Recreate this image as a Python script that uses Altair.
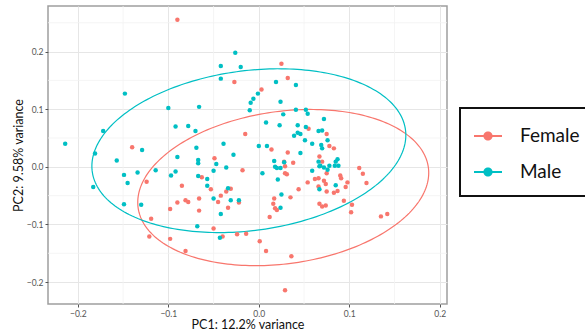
import altair as alt
import numpy as np
import pandas as pd

# ---- data ----
female_x = [-0.090, -0.140, -0.027, 0.025, 0.032, 0.003, 0.055, -0.015, 0.014, 0.032,
            -0.049, 0.038, 0.075, 0.078, 0.083, 0.067, 0.070, -0.124, -0.085, -0.090,
            -0.081, -0.078, -0.098, -0.119, -0.121, -0.098, -0.081, -0.018, -0.063, -0.053,
            -0.031, -0.036, -0.042, -0.045, -0.022, -0.066, -0.066, -0.034, -0.050, -0.040,
            -0.024, -0.014, 0.001, 0.008, 0.036, 0.029, 0.028, 0.029, 0.031, 0.029,
            0.017, 0.035, 0.044, 0.016, 0.018, 0.020, 0.012, 0.054, 0.062, 0.075,
            0.072, 0.074, 0.066, 0.075, 0.066, 0.083, 0.087, 0.091, 0.090, 0.098,
            0.096, 0.111, 0.115, 0.119, 0.094, 0.103, 0.102, 0.067, 0.070, 0.074,
            0.135, 0.142]
female_y = [0.255, 0.034, 0.147, 0.179, 0.154, 0.134, 0.066, 0.057, 0.030, 0.025,
            0.015, 0.007, 0.057, 0.036, 0.032, 0.018, 0.009, -0.026, -0.033, -0.062,
            -0.058, -0.061, -0.073, -0.090, -0.121, -0.125, -0.146, -0.006, -0.018, -0.039,
            -0.038, -0.043, -0.050, -0.061, -0.062, -0.055, -0.076, -0.071, -0.107, -0.121,
            -0.117, -0.116, -0.129, -0.146, -0.155, -0.214, 0.009, 0.001, -0.013, -0.011,
            -0.055, -0.053, -0.039, -0.064, -0.072, -0.075, -0.087, -0.027, -0.021, -0.011,
            -0.024, -0.030, -0.020, -0.043, -0.034, -0.045, -0.042, -0.020, -0.015, -0.027,
            -0.035, -0.002, -0.012, -0.028, -0.059, -0.066, -0.079, -0.064, -0.069, -0.067,
            -0.086, -0.082]

male_x = [-0.148, -0.100, -0.092, -0.078, -0.172, -0.214, -0.129, -0.181, -0.157, -0.090,
          -0.026, -0.042, -0.020, -0.042, 0.019, 0.041, -0.001, -0.006, -0.009, -0.010,
          0.024, -0.066, 0.041, 0.052, 0.027, 0.054, 0.008, 0.023, 0.043, 0.052,
          -0.070, 0.066, 0.070, 0.043, 0.046, 0.039, 0.051, 0.059, -0.069, -0.039,
          0.000, 0.009, -0.028, 0.046, -0.067, -0.067, -0.047, 0.017, 0.028, 0.066,
          0.072, 0.076, 0.069, 0.070, 0.087, 0.085, -0.149, -0.134, -0.145, -0.183,
          -0.114, -0.097, -0.092, -0.149, -0.130, -0.036, -0.067, -0.050, -0.057, -0.057,
          -0.034, -0.050, -0.031, -0.022, -0.042, -0.068, -0.043, 0.004, 0.018, 0.020,
          0.024, 0.021, 0.025, 0.024, 0.059, 0.067, 0.068, 0.072, 0.076, 0.078,
          0.084, 0.088, 0.067, 0.085]
male_y = [0.127, 0.102, 0.070, 0.071, 0.062, 0.040, 0.029, 0.023, 0.011, 0.017,
          0.198, 0.175, 0.173, 0.153, 0.147, 0.142, 0.127, 0.118, 0.111, 0.098,
          0.113, 0.104, 0.099, 0.099, 0.091, 0.092, 0.077, 0.072, 0.072, 0.069,
          0.062, 0.062, 0.063, 0.059, 0.057, 0.054, 0.046, 0.040, 0.033, 0.040,
          0.036, 0.036, 0.021, 0.024, 0.012, 0.006, 0.005, 0.010, 0.008, 0.009,
          0.083, 0.046, 0.038, 0.032, 0.013, 0.009, -0.014, -0.010, -0.028, -0.035,
          -0.006, -0.015, -0.008, -0.065, -0.066, -0.001, -0.016, -0.007, -0.021, -0.033,
          -0.037, -0.055, -0.058, -0.058, -0.082, -0.103, -0.123, -0.011, 0.000, -0.002,
          -0.002, -0.022, -0.048, -0.071, -0.007, 0.001, 0.002, -0.001, -0.005, 0.002,
          0.002, 0.002, -0.039, -0.032]

groups = ["Female", "Male"]
colors = ["#F8766D", "#00BFC4"]

x_ticks = [-0.2, -0.1, 0.0, 0.1, 0.2]
y_ticks = [-0.2, -0.1, 0.0, 0.1, 0.2]
x_minor = [-0.15, -0.05, 0.05, 0.15]
y_minor = [-0.15, -0.05, 0.05, 0.15, 0.25]

# 95% ellipses (centre, half width, half height, phase)
ell_cx = [0.027, -0.011]
ell_cy = [-0.036, 0.028]
ell_hw = [0.1608, 0.1735]
ell_hh = [0.1355, 0.1421]
ell_phase = [1.38, 1.38]

# ---- tables ----
pts = pd.DataFrame({
    "x": female_x + male_x,
    "y": female_y + male_y,
    "group": ["Female"] * len(female_x) + ["Male"] * len(male_x),
})

t = np.linspace(0, 2 * np.pi, 241)
rows = []
for g, cx, cy, hw, hh, ph in zip(groups, ell_cx, ell_cy, ell_hw, ell_hh, ell_phase):
    for i, tt in enumerate(t):
        rows.append({"x": cx + hw * np.cos(tt), "y": cy + hh * np.cos(tt - ph),
                     "group": g, "o": i})
ell = pd.DataFrame(rows)

xs = alt.Scale(domain=[-0.233, 0.208], nice=False, zero=False)
ys = alt.Scale(domain=[-0.238, 0.279], nice=False, zero=False)
cscale = alt.Scale(domain=groups, range=colors)

FONT = "Lato"
SYM = ("M-1,-0.08L-0.3,-0.08L-0.3,0.08L-1,0.08Z "
       "M0.3,-0.08L1,-0.08L1,0.08L0.3,0.08Z "
       "M0.33,0A0.33,0.33,0,1,1,-0.33,0A0.33,0.33,0,1,1,0.33,0Z")

x_axis = alt.Axis(values=x_ticks, format=".1f", grid=True, gridColor="#e6e6e6",
                  gridWidth=1, domain=False, tickColor="#555", tickSize=3,
                  labelColor="#555", labelFontSize=8.5, labelFont=FONT,
                  labelPadding=2, titleFont=FONT, titleFontSize=12.5,
                  titleFontWeight="normal", titleColor="#111", titlePadding=1)
y_axis = alt.Axis(values=y_ticks, format=".1f", grid=True, gridColor="#e6e6e6",
                  gridWidth=1, domain=False, tickColor="#555", tickSize=3,
                  labelColor="#555", labelFontSize=8.5, labelFont=FONT,
                  labelPadding=2, titleFont=FONT, titleFontSize=12.5,
                  titleFontWeight="normal", titleColor="#111", titlePadding=1)
legend = alt.Legend(title=None, orient="none", legendX=412, legendY=102,
                    symbolType=SYM, symbolSize=784, symbolStrokeWidth=0,
                    labelFont=FONT, labelFontSize=19, labelColor="#111",
                    labelOffset=18, padding=14, rowPadding=12,
                    strokeColor="#111", fillColor="white")
XT = "PC1: 12.2% variance"
YT = "PC2: 9.58% variance"

minor_x = alt.Chart(pd.DataFrame({"x": x_minor})).mark_rule(
    color="#f2f2f2", strokeWidth=0.8).encode(x=alt.X("x:Q", scale=xs, title=XT, axis=x_axis))
minor_y = alt.Chart(pd.DataFrame({"y": y_minor})).mark_rule(
    color="#f2f2f2", strokeWidth=0.8).encode(y=alt.Y("y:Q", scale=ys, title=YT, axis=y_axis))

ellipses = alt.Chart(ell).mark_line(strokeWidth=1.2).encode(
    x=alt.X("x:Q", scale=xs, title=XT, axis=x_axis),
    y=alt.Y("y:Q", scale=ys, title=YT, axis=y_axis),
    color=alt.Color("group:N", scale=cscale, legend=legend),
    order="o:Q",
    detail="group:N",
)

points = alt.Chart(pts).mark_point(filled=True, size=20, opacity=1).encode(
    x=alt.X("x:Q", scale=xs, title=XT, axis=x_axis),
    y=alt.Y("y:Q", scale=ys, title=YT, axis=y_axis),
    color=alt.Color("group:N", scale=cscale, legend=legend),
)

chart = alt.layer(minor_x, minor_y, ellipses, points).properties(
    width=399, height=298,
    autosize=alt.AutoSizeParams(type="none"),
    padding={"left": 48, "top": 6, "right": 138, "bottom": 30},
    background="white",
).configure_view(stroke="#9e9e9e", strokeWidth=1.5).configure_legend(strokeWidth=2)

chart.save("out.html", embed_options={"renderer": "svg", "actions": False})
